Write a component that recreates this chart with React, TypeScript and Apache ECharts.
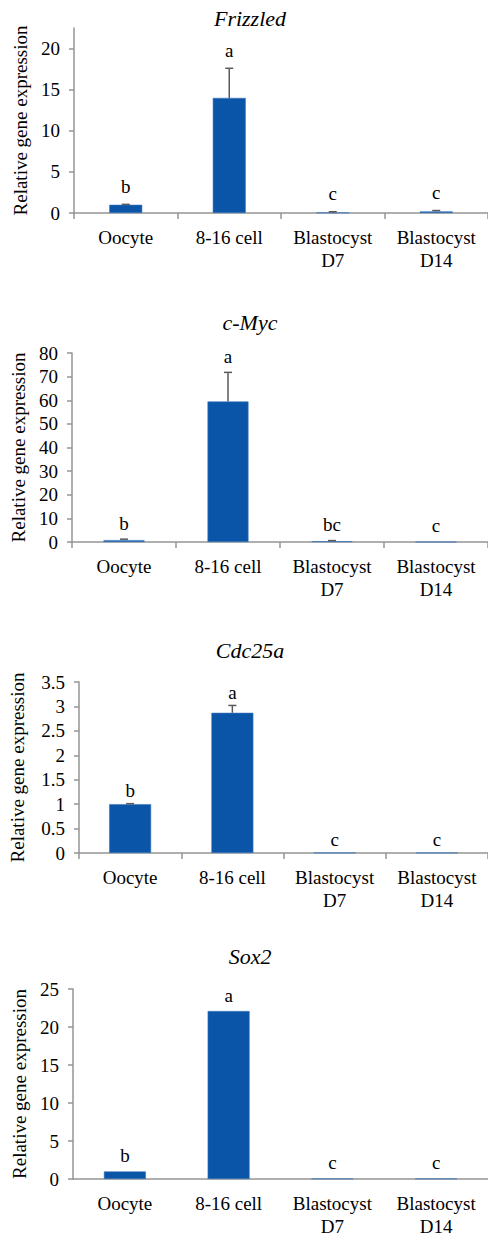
import React, { useEffect, useRef } from 'react';
import * as echarts from 'echarts';

// ---------- data ----------
const categories = ['Oocyte', '8-16 cell', 'Blastocyst\nD7', 'Blastocyst\nD14'];
const genes = ['Frizzled', 'c-Myc', 'Cdc25a', 'Sox2'];

const frizzledMean = [1.0, 14.0, 0.05, 0.2];
const frizzledErr = [0.05, 3.6, 0.1, 0.1];
const frizzledLetters = ['b', 'a', 'c', 'c'];

const cMycMean = [0.8, 59.5, 0.3, 0.05];
const cMycErr = [0.4, 12.3, 0.3, 0];
const cMycLetters = ['b', 'a', 'bc', 'c'];

const cdc25aMean = [1.0, 2.87, 0.005, 0.005];
const cdc25aErr = [0.01, 0.15, 0, 0];
const cdc25aLetters = ['b', 'a', 'c', 'c'];

const sox2Mean = [1.0, 22.1, 0.05, 0.05];
const sox2Err = [0, 0, 0, 0];
const sox2Letters = ['b', 'a', 'c', 'c'];

const yMaxes = [22.5, 80, 3.5, 25];
const yIntervals = [5, 10, 0.5, 5];
const frizzledTicks = [0, 5, 10, 15, 20];
const yAxisName = 'Relative gene expression';

const means = [frizzledMean, cMycMean, cdc25aMean, sox2Mean];
const errs = [frizzledErr, cMycErr, cdc25aErr, sox2Err];
const letters = [frizzledLetters, cMycLetters, cdc25aLetters, sox2Letters];

// ---------- layout ----------
const layout = [
  { left: 74, top: 28, height: 185, width: 416, titleY: 7, nameGap: 44, barWidth: 33, xTicks: true, letterGap: 18 },
  { left: 72, top: 353, height: 189, width: 416, titleY: 311, nameGap: 37, barWidth: 41, xTicks: true, letterGap: 16 },
  { left: 77, top: 682, height: 171, width: 414, titleY: 639, nameGap: 52, barWidth: 42, xTicks: true, letterGap: 13 },
  { left: 73, top: 989, height: 196, width: 415, titleY: 945, nameGap: 39, barWidth: 42, xTicks: false, letterGap: 16 },
];

const FONT = 'Liberation Serif';
const BAR = '#0a55a7';
const AXIS = '#959595';

function buildOption() {
  const grid: any[] = [];
  const xAxis: any[] = [];
  const yAxis: any[] = [];
  const series: any[] = [];
  const title: any[] = [];

  layout.forEach((L, k) => {
    grid.push({ left: L.left, top: L.top, width: L.width, height: L.height, containLabel: false });
    title.push({
      text: genes[k],
      left: 250,
      top: L.titleY,
      textAlign: 'center',
      padding: 0,
      textStyle: { fontFamily: FONT, fontStyle: 'italic', fontWeight: 'normal', fontSize: 22, color: '#000' },
    });
    xAxis.push({
      type: 'category',
      gridIndex: k,
      data: categories,
      boundaryGap: true,
      axisLine: { show: true, lineStyle: { color: AXIS, width: 1.5 } },
      axisTick: { show: L.xTicks, length: 6, lineStyle: { color: AXIS, width: 1.5 } },
      axisLabel: { fontFamily: FONT, fontSize: 19, color: '#000', margin: 13, lineHeight: 23, interval: 0 },
      splitLine: { show: false },
    });
    const y: any = {
      type: 'value',
      gridIndex: k,
      min: 0,
      max: yMaxes[k],
      interval: yIntervals[k],
      name: yAxisName,
      nameLocation: 'middle',
      nameGap: L.nameGap,
      nameTextStyle: { fontFamily: FONT, fontSize: 19, color: '#000' },
      axisLine: { show: true, lineStyle: { color: AXIS, width: 1.5 } },
      axisTick: { show: true, length: 5, lineStyle: { color: AXIS, width: 1.5 } },
      axisLabel: { fontFamily: FONT, fontSize: 19, color: '#000', margin: 14 },
      splitLine: { show: false },
    };
    if (k === 0) {
      y.axisLabel.customValues = frizzledTicks;
      y.axisTick.customValues = frizzledTicks;
    }
    yAxis.push(y);

    series.push({
      type: 'bar',
      xAxisIndex: k,
      yAxisIndex: k,
      data: means[k],
      barWidth: L.barWidth,
      itemStyle: { color: BAR, borderColor: '#3f78bd', borderWidth: 0.6 },
      z: 2,
    });

    const errData = means[k].map((m, i) => [i, m, errs[k][i]]);
    const lets = letters[k];
    const gap = L.letterGap;
    series.push({
      type: 'custom',
      xAxisIndex: k,
      yAxisIndex: k,
      data: errData,
      z: 5,
      clip: false,
      renderItem: (params: any, api: any) => {
        const i = api.value(0);
        const m = api.value(1);
        const e = api.value(2);
        const base = api.coord([i, m]);
        const top = api.coord([i, m + e]);
        const children: any[] = [];
        if (e > 0) {
          children.push({
            type: 'line',
            shape: { x1: base[0], y1: base[1], x2: top[0], y2: top[1] },
            style: { stroke: '#5a5a5a', lineWidth: 1.5 },
          });
          children.push({
            type: 'line',
            shape: { x1: top[0] - 4, y1: top[1], x2: top[0] + 4, y2: top[1] },
            style: { stroke: '#5a5a5a', lineWidth: 1.5 },
          });
        }
        children.push({
          type: 'text',
          style: {
            text: lets[params.dataIndex],
            x: top[0],
            y: top[1] - gap,
            align: 'center',
            verticalAlign: 'middle',
            fontFamily: FONT,
            fontSize: 19,
            fill: '#000',
          },
        });
        return { type: 'group', children };
      },
    });
  });

  return {
    animation: false,
    backgroundColor: '#ffffff',
    textStyle: { fontFamily: FONT },
    title,
    grid,
    xAxis,
    yAxis,
    series,
  };
}

export default function App() {
  const ref = useRef<HTMLDivElement>(null);
  useEffect(() => {
    document.body.style.margin = '0';
    if (!ref.current) return;
    const chart = echarts.init(ref.current, undefined, { renderer: 'svg' });
    chart.setOption(buildOption() as any);
    return () => chart.dispose();
  }, []);
  return <div ref={ref} style={{ position: 'absolute', left: 0, top: 0, width: 488, height: 1238, background: '#fff' }} />;
}
